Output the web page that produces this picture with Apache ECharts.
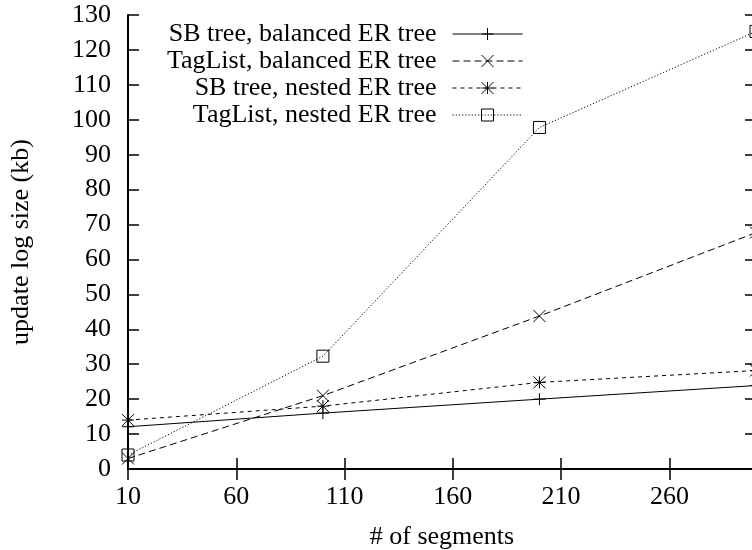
<!DOCTYPE html>
<html>
<head>
<meta charset="utf-8">
<script src="https://cdn.jsdelivr.net/npm/echarts@6/dist/echarts.min.js"></script>
<style>
  html, body { margin: 0; padding: 0; background: #fff; }
  #chart { width: 752px; height: 550px; }
</style>
</head>
<body>
<div id="chart"></div>
<script>
// Number of segments (x) and update log sizes in kb (y)
const segments = [10, 100, 200, 300];
const sbBalanced = [12.1, 16.0, 20.0, 23.9];
const tagBalanced = [3.0, 21.0, 43.8, 67.7];
const sbNested = [14.0, 18.0, 24.8, 28.2];
const tagNested = [4.0, 32.3, 97.8, 125.3];

const seriesNames = [
  'SB tree, balanced ER tree',
  'TagList, balanced ER tree',
  'SB tree, nested ER tree',
  'TagList, nested ER tree'
];

const xTicks = { min: 10, max: 300, interval: 50 };
const yTicks = { min: 0, max: 130, interval: 10 };

const FONT = 'Liberation Serif';

// gnuplot-style point markers
const MARK_PLUS = 'path://M0,5L10,5M5,0L5,10';
const MARK_CROSS = 'path://M0,0L10,10M10,0L0,10';
const MARK_STAR = 'path://M0,5L10,5M5,0L5,10M0,0L10,10M10,0L0,10';
const MARK_BOX = 'path://M0,0L10,0L10,10L0,10Z';

const dashes = ['solid', [7, 4], [4, 4], [1.2, 2]];

function pairs(values) {
  return segments.map((x, i) => [x, values[i]]);
}

function lineSeries(name, values, symbol, dash) {
  return {
    name: name,
    type: 'line',
    data: pairs(values),
    symbol: symbol,
    symbolSize: 12,
    showAllSymbol: true,
    clip: false,
    lineStyle: { color: '#000', width: 1, type: dash },
    itemStyle: { color: 'transparent', borderColor: '#000', borderWidth: 1 },
    emphasis: { disabled: true },
    z: 3
  };
}

const chart = echarts.init(document.getElementById('chart'), null, { renderer: 'canvas' });

const axisLineStyle = { lineStyle: { color: '#000', width: 2 } };
const tickStyle = { inside: true, length: 11, lineStyle: { color: '#000', width: 1.5 } };

chart.setOption({
  animation: false,
  backgroundColor: '#fff',
  grid: {
    left: 128, top: 15, right: -4, bottom: 81,
    containLabel: false,
    outerBoundsMode: 'none'
  },
  legend: {
    orient: 'vertical',
    align: 'right',
    right: 229,
    top: 21,
    padding: 0,
    itemWidth: 70,
    itemHeight: 15,
    itemGap: 1,
    selectedMode: false,
    data: seriesNames.map((n, i) => ({
      name: n,
      lineStyle: { width: 1, color: '#000', type: dashes[i] },
      itemStyle: { color: 'transparent', borderColor: '#000', borderWidth: 1 }
    })),
    textStyle: {
      fontFamily: FONT,
      fontSize: 26,
      color: '#000',
      lineHeight: 24,
      padding: [0, 11, 0, 0]
    }
  },
  xAxis: [
    {
      type: 'value',
      position: 'bottom',
      min: xTicks.min,
      max: xTicks.max,
      interval: xTicks.interval,
      name: '# of segments',
      nameLocation: 'middle',
      nameGap: 55,
      nameTextStyle: { fontFamily: FONT, fontSize: 26, color: '#000' },
      axisLine: axisLineStyle,
      axisTick: tickStyle,
      splitLine: { show: false },
      axisLabel: {
        fontFamily: FONT, fontSize: 26, color: '#000', margin: 15,
        showMaxLabel: false
      }
    },
    {
      type: 'value',
      position: 'top',
      min: xTicks.min,
      max: xTicks.max,
      interval: xTicks.interval,
      axisLine: axisLineStyle,
      axisTick: tickStyle,
      splitLine: { show: false },
      axisLabel: { show: false }
    }
  ],
  yAxis: [
    {
      type: 'value',
      position: 'left',
      min: yTicks.min,
      max: yTicks.max,
      interval: yTicks.interval,
      name: 'update log size (kb)',
      nameLocation: 'middle',
      nameRotate: 90,
      nameGap: 94,
      nameTextStyle: { fontFamily: FONT, fontSize: 26, color: '#000' },
      axisLine: axisLineStyle,
      axisTick: tickStyle,
      splitLine: { show: false },
      axisLabel: { fontFamily: FONT, fontSize: 26, color: '#000', margin: 17 }
    },
    {
      type: 'value',
      position: 'right',
      min: yTicks.min,
      max: yTicks.max,
      interval: yTicks.interval,
      axisLine: axisLineStyle,
      axisTick: tickStyle,
      splitLine: { show: false },
      axisLabel: { show: false }
    }
  ],
  series: [
    lineSeries(seriesNames[0], sbBalanced, MARK_PLUS, dashes[0]),
    lineSeries(seriesNames[1], tagBalanced, MARK_CROSS, dashes[1]),
    lineSeries(seriesNames[2], sbNested, MARK_STAR, dashes[2]),
    lineSeries(seriesNames[3], tagNested, MARK_BOX, dashes[3])
  ]
});
</script>
</body>
</html>
